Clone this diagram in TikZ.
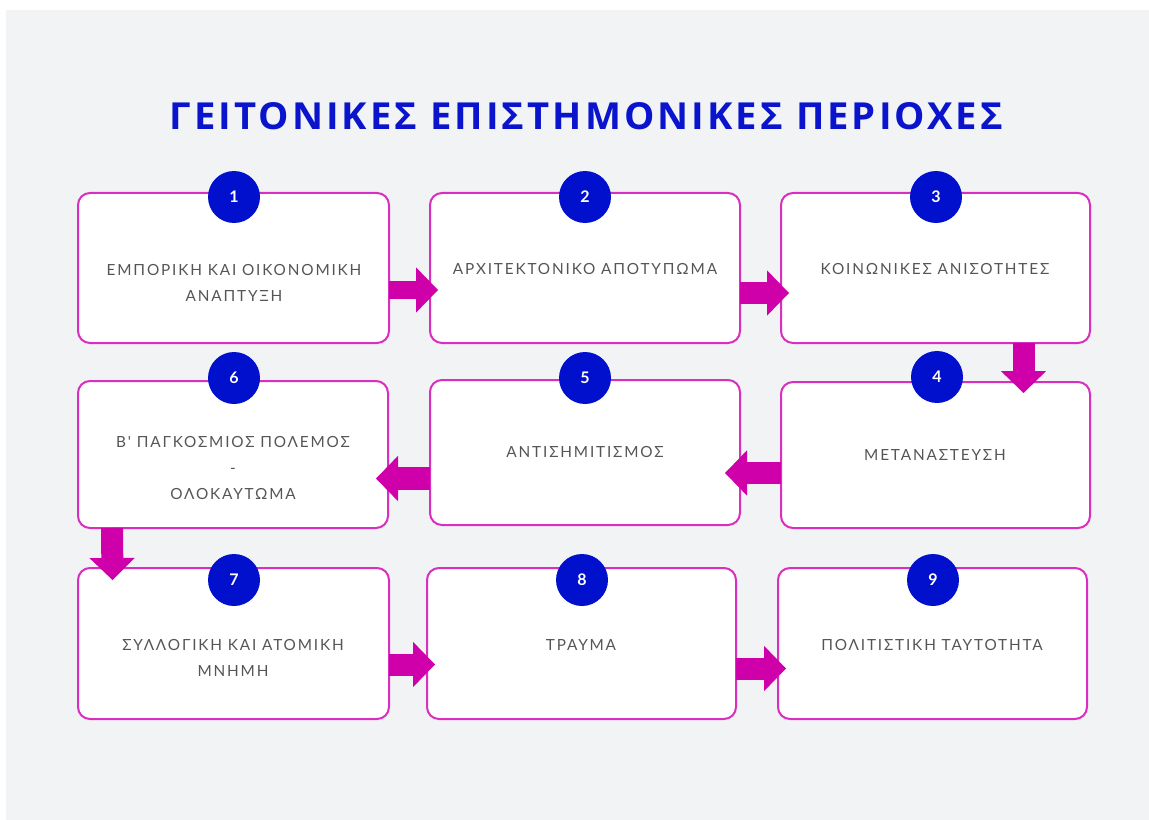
\documentclass[tikz,border=0pt]{standalone}
\usepackage{fontspec}
\usepackage{graphicx}
\setmainfont{Lato}
\newfontfamily\bodyfont[LetterSpace=12]{Lato}
\newfontfamily\titlefont[LetterSpace=8]{Open Sans}
\usetikzlibrary{arrows.meta,calc}
\definecolor{bggray}{HTML}{F2F3F5}
\definecolor{boxmag}{HTML}{D82FC0}
\definecolor{arrmag}{HTML}{CF00A9}
\definecolor{numblue}{HTML}{0010CC}
\definecolor{titleblue}{HTML}{0A14CC}
\definecolor{txtgray}{HTML}{555555}
\begin{document}
\begin{tikzpicture}[x=0.75pt,y=-0.75pt,
  box/.style={draw=boxmag, line width=1.5pt, fill=white, rounded corners=9pt, inner sep=0pt},
  num/.style={circle, fill=numblue, minimum size=39pt, inner sep=0pt, text=white,
    font=\fontsize{12}{14}\selectfont\bfseries},
  lbl/.style={text=txtgray, font=\bodyfont\fontsize{11.5}{19.5}\selectfont, align=center, inner sep=0pt},
  conn/.style={draw=arrmag, line width=16.5pt,
    -{Triangle[width=34pt, length=16.5pt, line width=0pt]}}]
\fill[white] (0,0) rectangle (1149,820);
\fill[bggray] (6,10) rectangle (1149,820);
\useasboundingbox (0,0) rectangle (1149,820);

\node[inner sep=0pt, text=titleblue] (title) at (586.5,116.5)
  {\resizebox{624.75pt}{20.25pt}{\titlefont\bfseries ΓΕΙΤΟΝΙΚΕΣ ΕΠΙΣΤΗΜΟΝΙΚΕΣ ΠΕΡΙΟΧΕΣ}};

% boxes
\node[box, minimum width=233.25pt, minimum height=112.5pt] (b1) at (233.5,268) {};
\node[box, minimum width=232.5pt, minimum height=112.5pt] (b2) at (585,268) {};
\node[box, minimum width=231.75pt, minimum height=112.5pt] (b3) at (935.5,268) {};
\node[box, minimum width=232.5pt, minimum height=110.25pt] (b6) at (233,454.5) {};
\node[box, minimum width=232.5pt, minimum height=108.75pt] (b5) at (585,452.5) {};
\node[box, minimum width=231.75pt, minimum height=109.5pt] (b4) at (935.5,455) {};
\node[box, minimum width=233.25pt, minimum height=113.25pt] (b7) at (233.5,643.5) {};
\node[box, minimum width=231.75pt, minimum height=113.25pt] (b8) at (581.5,643.5) {};
\node[box, minimum width=231.75pt, minimum height=113.25pt] (b9) at (932.5,643.5) {};

% labels
\node[lbl] (t1) at (234,282.5) {ΕΜΠΟΡΙΚΗ ΚΑΙ ΟΙΚΟΝΟΜΙΚΗ\\ΑΝΑΠΤΥΞΗ};
\node[lbl] (t2) at (585,269) {ΑΡΧΙΤΕΚΤΟΝΙΚΟ ΑΠΟΤΥΠΩΜΑ};
\node[lbl] (t3) at (935,269) {ΚΟΙΝΩΝΙΚΕΣ ΑΝΙΣΟΤΗΤΕΣ};
\node[lbl] (t4) at (935,455) {ΜΕΤΑΝΑΣΤΕΥΣΗ};
\node[lbl] (t5) at (585,452) {ΑΝΤΙΣΗΜΙΤΙΣΜΟΣ};
\node[lbl] (t6) at (233,468) {Β' ΠΑΓΚΟΣΜΙΟΣ ΠΟΛΕΜΟΣ\\-\\ΟΛΟΚΑΥΤΩΜΑ};
\node[lbl] (t7) at (233,658) {ΣΥΛΛΟΓΙΚΗ ΚΑΙ ΑΤΟΜΙΚΗ\\ΜΝΗΜΗ};
\node[lbl] (t8) at (581,645) {ΤΡΑΥΜΑ};
\node[lbl] (t9) at (932,645) {ΠΟΛΙΤΙΣΤΙΚΗ ΤΑΥΤΟΤΗΤΑ};

% connectors
\draw[conn, line width=13pt] ($(b1.east)+(-1,22)$) -- ($(b2.west)+(9,22)$);
\draw[conn] ($(b2.east)+(-1,25)$) -- ($(b3.west)+(9,25)$);
\draw[conn] ($(b3.south)+(88,-1)$) -- ($(b4.north)+(88,12)$);
\draw[conn] ($(b4.west)+(1,18)$) -- ($(b5.west)+(296,20.5)$);
\draw[conn, line width=17pt] ($(b5.west)+(1,26)$) -- ($(b6.east)+(-13,24)$);
\draw[conn] ($(b6.south)+(-121,-1)$) -- ($(b7.north)+(-121,13)$);
\draw[conn] ($(b7.east)+(-1,21)$) -- ($(b8.west)+(9,21)$);
\draw[conn] ($(b8.east)+(-1,25)$) -- ($(b9.west)+(9,25)$);

% numbers
\node[num] (n1) at (234,197) {1};
\node[num] (n2) at (585,197) {2};
\node[num] (n3) at (936,197) {3};
\node[num] (n6) at (234,378) {6};
\node[num] (n5) at (585,378) {5};
\node[num] (n4) at (937,377) {4};
\node[num] (n7) at (234,580) {7};
\node[num] (n8) at (582,580) {8};
\node[num] (n9) at (933,580) {9};
\end{tikzpicture}
\end{document}
